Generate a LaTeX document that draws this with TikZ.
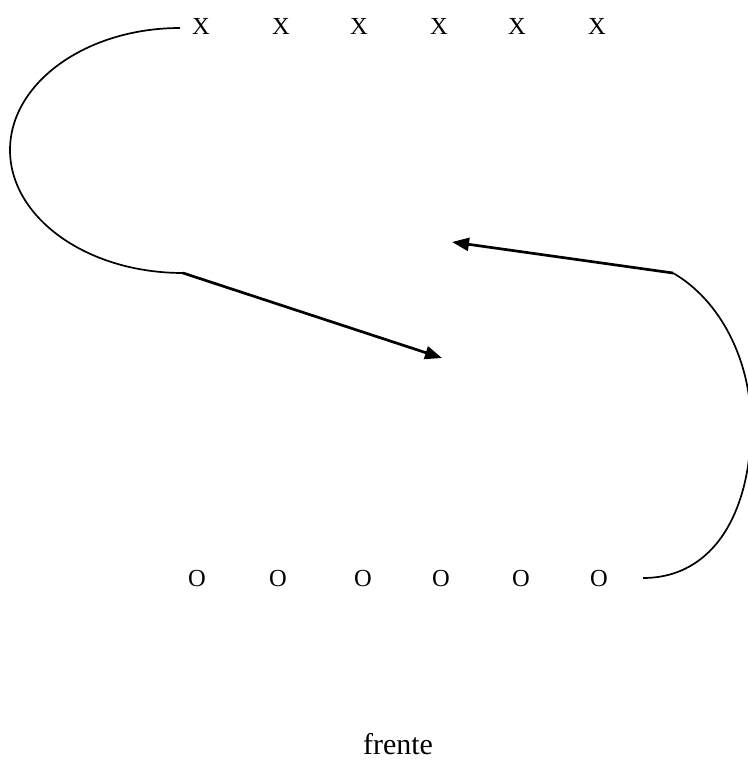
\documentclass[tikz,border=0pt]{standalone}
\usepackage{fontspec}
\setmainfont{Liberation Serif}
\usetikzlibrary{arrows.meta}
\begin{document}
\begin{tikzpicture}[x=1pt,y=-1pt,
  jugador/.style={anchor=base,inner sep=0pt,font=\fontsize{24.5}{29}\selectfont},
  curva/.style={line width=1.7pt},
  flecha/.style={-{Triangle[length=17pt,width=13pt]},line width=2.7pt}]
\useasboundingbox (0,0) rectangle (747,763);
% fila de arriba
\foreach \i/\xx in {1/201,2/281,3/359,4/439,5/517,6/597} \node[jugador] (x\i) at (\xx,34) {X};
% fila de abajo
\foreach \i/\xx in {1/197,2/278,3/363,4/441,5/521,6/599} \node[jugador] (o\i) at (\xx,586) {O};
\node[anchor=base,font=\fontsize{30}{36}\selectfont] (frente) at (398,754) {frente};
% extremos de las curvas y flechas
\coordinate (ia) at (180,28);
\coordinate (ib) at (183,273);
\coordinate (ic) at (442,358);
\coordinate (da) at (643,578);
\coordinate (db) at (673,273);
\coordinate (dc) at (452,242);
\draw[curva] (ia) .. controls (86,28) and (10,83) .. (10,150) .. controls (10,217) and (86,273) .. (ib);
\draw[flecha] (ib) -- (ic);
\draw[curva] (db) .. controls (720,300) and (751,360) .. (751,425) .. controls (751,510) and (715,578) .. (da);
\draw[flecha] (db) -- (dc);
\end{tikzpicture}
\end{document}
